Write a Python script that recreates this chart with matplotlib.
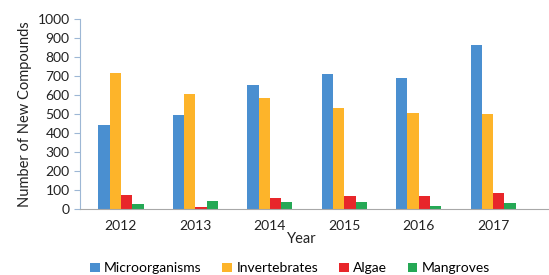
import matplotlib
matplotlib.use("Agg")
import matplotlib.pyplot as plt
import numpy as np

years = ["2012", "2013", "2014", "2015", "2016", "2017"]
microorganisms = [442, 495, 655, 710, 688, 862]
invertebrates = [716, 605, 583, 530, 507, 498]
algae = [72, 13, 59, 71, 67, 86]
mangroves = [26, 44, 37, 37, 16, 33]

series = [
    ("Microorganisms", microorganisms, "#4A8FD0"),
    ("Invertebrates", invertebrates, "#FDB42A"),
    ("Algae", algae, "#E8262A"),
    ("Mangroves", mangroves, "#25A855"),
]

plt.rcParams['font.family'] = ['Lato', 'DejaVu Sans']

fig = plt.figure(figsize=(5.49, 2.75), dpi=100)
ax = fig.add_axes([0.1457, 0.24, 0.8543, 0.691])

x = np.arange(len(years))
w = 0.152
for i, (name, vals, col) in enumerate(series):
    ax.bar(x + (i - 1.5) * w, vals, width=w, color=col, label=name)

ax.set_xlim(-0.55, 5.75)
ax.set_ylim(0, 1000)
ax.set_yticks(np.arange(0, 1001, 100))
ax.set_xticks(x)
ax.set_xticklabels(years)
ax.tick_params(axis='x', length=0, labelsize=10, pad=8)
ax.tick_params(axis='y', length=4, labelsize=10, color='#9DB7D5')
for t in ax.get_yticklabels() + ax.get_xticklabels():
    t.set_color('#222222')

ax.spines['top'].set_visible(False)
ax.spines['right'].set_visible(False)
ax.spines['left'].set_color('#9DB7D5')
ax.spines['bottom'].set_color('#A8A8A8')

ax.set_ylabel("Number of New Compounds", fontsize=10.5, color='#222222', labelpad=4)
ax.set_xlabel("Year", fontsize=10.5, color='#222222')
ax.xaxis.set_label_coords(0.473, -0.12, transform=ax.transAxes)
ax.xaxis.label.set_va('top')

handles, labels = ax.get_legend_handles_labels()
fig.legend(handles, labels, loc='center', bbox_to_anchor=(0.528, 0.024), ncol=4,
           frameon=False, fontsize=10, handlelength=0.7, handleheight=0.7,
           handletextpad=0.3, columnspacing=1.5, borderaxespad=0, borderpad=0)

fig.savefig("out.png", dpi=100)
